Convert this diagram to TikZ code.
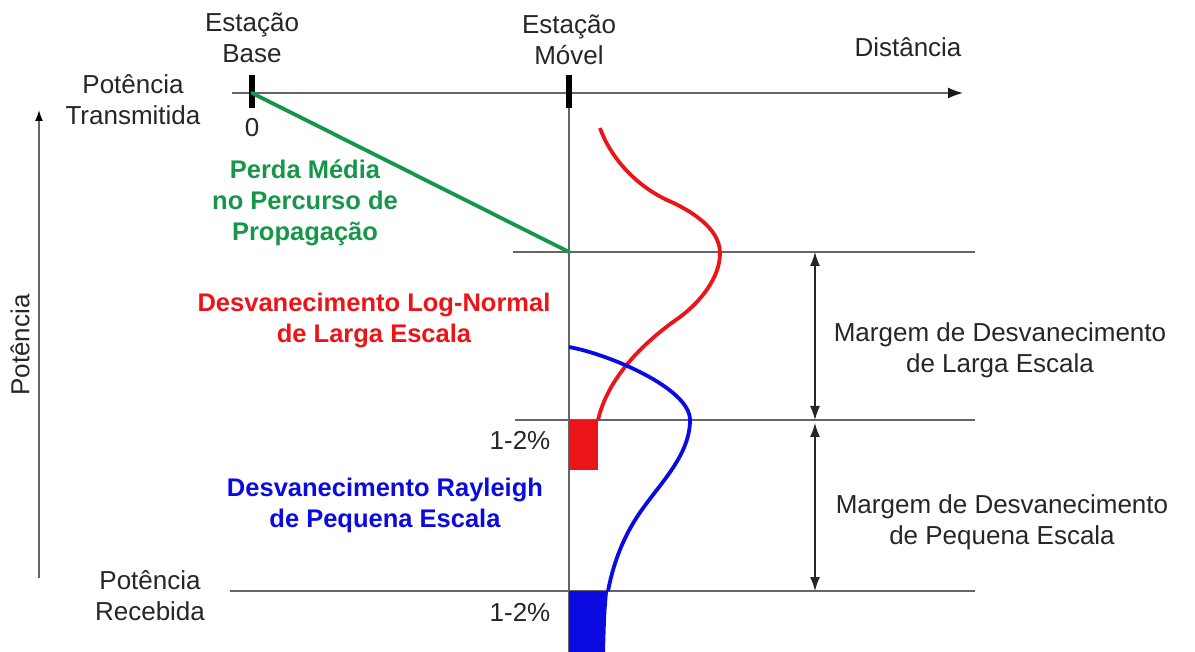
\documentclass[tikz,border=0pt]{standalone}
\usepackage{fontspec}
\setmainfont{Liberation Sans}
\usetikzlibrary{arrows.meta,positioning}
\definecolor{verde}{RGB}{22,150,72}
\definecolor{vermelho}{RGB}{235,20,25}
\definecolor{azul}{RGB}{10,10,225}

\begin{document}
\begin{tikzpicture}[x=1pt,y=-1pt,
    eixo/.style={draw=black!60, line width=1.6pt},
    marca/.style={line width=6pt},
    seta/.style={-{Latex[length=15pt,width=11pt,color=black!90]}},
    rotulo/.style={font=\fontsize{26}{31}\selectfont, align=center, text=black!85, inner sep=0pt},
    destaque/.style={font=\fontsize{25.5}{31}\selectfont\bfseries, align=center, inner sep=0pt},
    cota/.style={{Latex[length=14pt,width=10pt]}-{Latex[length=14pt,width=10pt]}, line width=1.3pt, draw=black!85}]
    \useasboundingbox (0,0) rectangle (1195,652);
    % pontos de referencia
    \coordinate (bs) at (252,93);
    \coordinate (ms) at (569,93);
    \coordinate (med) at (569,252);
    \coordinate (lim) at (569,420);
    \coordinate (rec) at (569,591);
    \coordinate (fim) at (569,652);
    \coordinate (ax0) at (232,93);
    \coordinate (ax1) at (963,93);
    % eixos
    \draw [eixo, seta] (ax0) -- (ax1);
    \draw [eixo, -{Latex[length=11pt,width=8pt,color=black]}] (39,578) coordinate(p0) -- (39,110) coordinate(p1);
    \draw [eixo] (ms) -- (fim);
    \draw [eixo] (513,252) -- (975,252);
    \draw [eixo] (515,420) -- (975,420);
    \draw [eixo] (230,591) -- (975,591);
    \draw [marca] (bs) ++(0,-18) --++ (0,33);
    \draw [marca] (ms) ++(0,-18) --++ (0,33);
    % perda media
    \draw [verde, line width=3.8pt, line cap=round] (bs) -- (med);
    % areas de 1-2%
    \fill [vermelho] (lim) rectangle (598,470);
    \fill [azul] (rec) -- (608,591) .. controls (606,615) .. (605,652) -- (fim) -- cycle;
    % curvas
    \draw [vermelho, line width=3.8pt] (600,128) .. controls (611,159) and (637,186) .. (667,200)
        .. controls (690,210) and (720,228) .. (720,253)
        .. controls (720,278) and (700,302) .. (680,317)
        .. controls (644,342) and (608,377) .. (598,420);
    \draw [azul, line width=3.8pt] (569,347) .. controls (608,354) and (690,388) .. (690,420)
        .. controls (690,457) and (657,486) .. (637,517)
        .. controls (622,540) and (613,565) .. (608,591);
    % cotas
    \draw [cota] (815,252) -- (815,420);
    \draw [cota] (815,423) -- (815,591);
    % textos
    \node [rotulo] (tbs) at (252,38) {Estação\\Base};
    \node [rotulo] (tms) at (569,40) {Estação\\Móvel};
    \node [rotulo] (tdist) at (908,47) {Distância};
    \node [rotulo] (ttx) at (133,100) {Potência\\Transmitida};
    \node [rotulo] (tzero) at (252,128) {0};
    \node [rotulo, rotate=90] (tpot) at (20,345) {Potência};
    \node [rotulo] (trx) at (150,596) {Potência\\Recebida};
    \node [destaque, text=verde] (tperda) at (305,203) {Perda Média\\no Percurso de\\Propagação};
    \node [destaque, text=vermelho] (tlog) at (374,320) {Desvanecimento Log-Normal\\de Larga Escala};
    \node [destaque, text=azul] (tray) at (385,505) {Desvanecimento Rayleigh\\de Pequena Escala};
    \node [rotulo] (tp1) at (520,440) {1-2\%};
    \node [rotulo] (tp2) at (520,612) {1-2\%};
    \node [rotulo] (tml) at (1000,350) {Margem de Desvanecimento\\de Larga Escala};
    \node [rotulo] (tmp) at (1002,522) {Margem de Desvanecimento\\de Pequena Escala};
\end{tikzpicture}
\end{document}
